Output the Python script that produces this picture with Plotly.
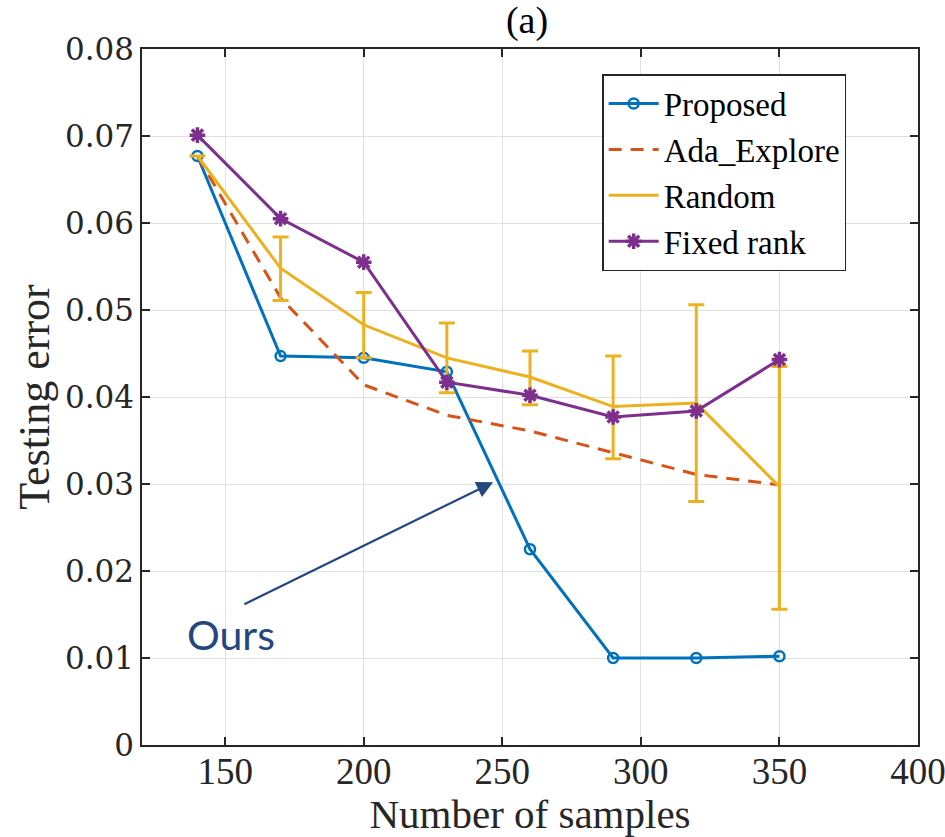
import plotly.graph_objects as go

samples = [140, 170, 200, 230, 260, 290, 320, 350]
proposed = [0.0677, 0.0447, 0.0445, 0.0429, 0.0225, 0.0100, 0.0100, 0.0102]
ada_explore = [0.0677, 0.0514, 0.0414, 0.0379, 0.0361, 0.0336, 0.0311, 0.0299]
random_mean = [0.0677, 0.0548, 0.0483, 0.0445, 0.0423, 0.0389, 0.0393, 0.0297]
random_upper = [0.0677, 0.0584, 0.0520, 0.0485, 0.0453, 0.0447, 0.0506, 0.0435]
random_lower = [0.0677, 0.0511, 0.0445, 0.0405, 0.0391, 0.0329, 0.0280, 0.0156]
fixed_rank = [0.0701, 0.0605, 0.0555, 0.0417, 0.0402, 0.0377, 0.0384, 0.0443]

x_ticks = [150, 200, 250, 300, 350, 400]
y_ticks = [0, 0.01, 0.02, 0.03, 0.04, 0.05, 0.06, 0.07, 0.08]
y_tick_text = ["0", "0.01", "0.02", "0.03", "0.04", "0.05", "0.06", "0.07", "0.08"]

BLUE = "#0072BD"
ORANGE = "#D95319"
YELLOW = "#EDB120"
PURPLE = "#7E2F8E"
SERIF = "Liberation Serif"
LW = 3

err_plus = [u - m for u, m in zip(random_upper, random_mean)]
err_minus = [m - l for m, l in zip(random_mean, random_lower)]

fig = go.Figure()
fig.add_trace(go.Scatter(
    x=samples, y=proposed, name="Proposed", mode="lines+markers",
    line=dict(color=BLUE, width=LW),
    marker=dict(symbol="circle-open", size=10, color=BLUE, line=dict(width=2.5, color=BLUE)),
))
fig.add_trace(go.Scatter(
    x=samples, y=ada_explore, name="Ada_Explore", mode="lines",
    line=dict(color=ORANGE, width=LW, dash="13px,9px"),
))
fig.add_trace(go.Scatter(
    x=samples, y=random_mean, name="Random", mode="lines",
    line=dict(color=YELLOW, width=LW),
    error_y=dict(type="data", symmetric=False, array=err_plus, arrayminus=err_minus,
                 color=YELLOW, thickness=LW, width=8),
))
fig.add_trace(go.Scatter(
    x=samples, y=fixed_rank, name="Fixed rank", mode="lines+markers",
    line=dict(color=PURPLE, width=LW),
    marker=dict(symbol="asterisk-open", size=13, color=PURPLE, line=dict(width=3.5, color=PURPLE)),
))

# arrow pointing to the proposed curve
fig.add_annotation(
    x=246.7, y=0.0302, ax=156.4, ay=0.0161, xref="x", yref="y", axref="x", ayref="y",
    text="", showarrow=True, arrowhead=2, arrowsize=1.5, arrowwidth=2.2,
    arrowcolor="#24477F",
)
fig.add_annotation(
    x=152, y=0.0127, xref="x", yref="y", text="Ours", showarrow=False,
    font=dict(family="Lato", size=41, color="#24477F"),
)

axis_common = dict(
    showline=True, linecolor="#262626", linewidth=1.5, mirror="ticks",
    ticks="inside", ticklen=8, tickcolor="#262626", tickwidth=1.5,
    showgrid=True, gridcolor="#E0E0E0", gridwidth=1.2, zeroline=False,
    automargin=False, ticklabeloverflow="allow",
)

fig.update_layout(
    width=945, height=837,
    margin=dict(l=142, r=27, t=49, b=92),
    paper_bgcolor="white", plot_bgcolor="white",
    title=dict(text="(a)", x=527 / 945, xanchor="center", y=1 - 20 / 837, yanchor="middle",
               font=dict(family=SERIF, size=38, color="black")),
    xaxis=dict(range=[120, 400.001], tickvals=x_ticks, ticktext=[str(v) for v in x_ticks],
               tickfont=dict(family=SERIF, size=37, color="#262626"),
               ticklabelstandoff=-7,
               title=dict(text="Number of samples", standoff=3,
                          font=dict(family=SERIF, size=41, color="#262626")),
               **axis_common),
    yaxis=dict(range=[0, 0.08], tickvals=y_ticks, ticktext=y_tick_text,
               tickfont=dict(family="DejaVu Serif", size=31, color="#262626"),
               title=dict(text="Testing error", standoff=2,
                          font=dict(family=SERIF, size=44, color="#262626")),
               **axis_common),
    legend=dict(x=0.593, y=0.964, xanchor="left", yanchor="top",
                bgcolor="white", bordercolor="#262626", borderwidth=1.5,
                font=dict(family=SERIF, size=33, color="black"),
                tracegroupgap=0, itemwidth=50),
    showlegend=True,
)

fig.write_html("out.html")
